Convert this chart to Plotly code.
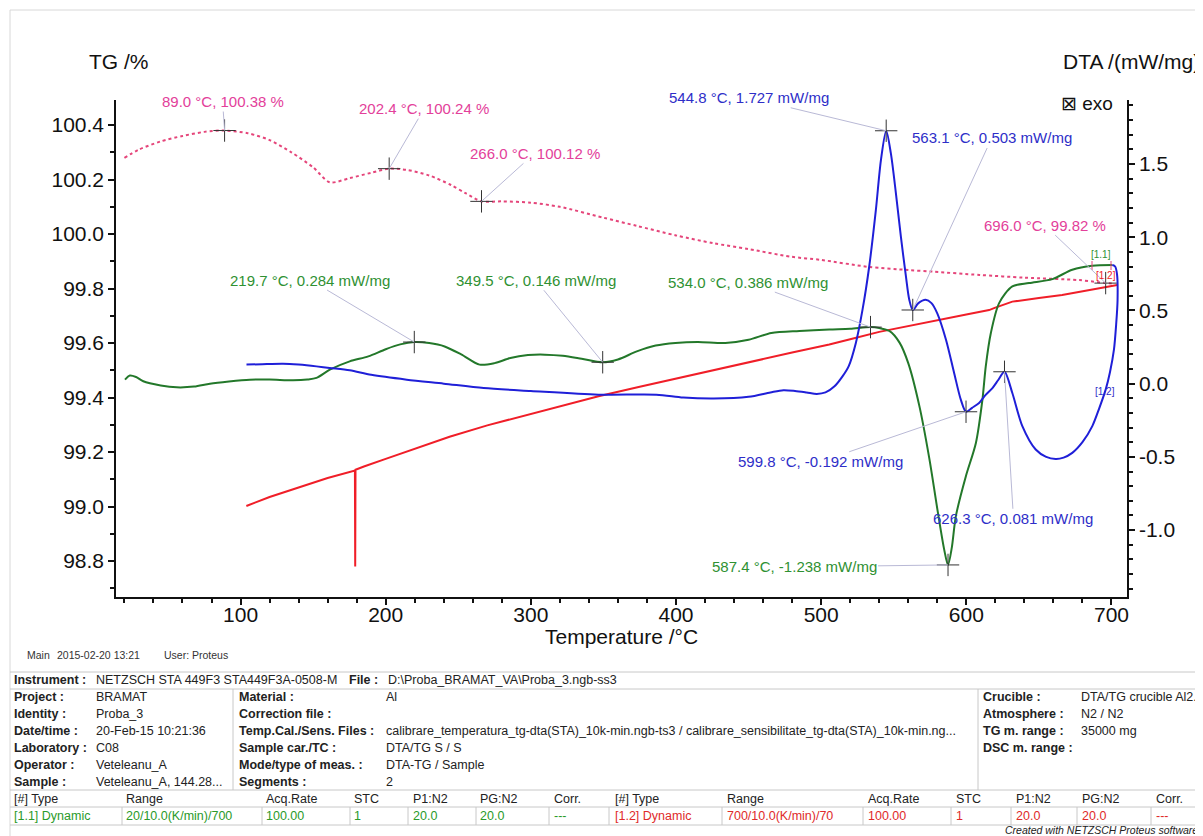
import plotly.graph_objects as go

# ---------------- data ----------------
# TG, heating segment [1.1] (dotted)
tg1_T = [20, 30, 45, 60, 75, 89.0, 105, 120, 135, 150, 161.5, 175, 190, 202.4, 215, 230, 245, 255,
         266.0, 280, 300, 320, 350, 373, 400, 426, 450, 479, 500, 532, 560, 577, 609, 640, 678, 696.0, 702]
tg1_v = [100.28, 100.31, 100.34, 100.36, 100.375, 100.38, 100.37, 100.345, 100.30, 100.245, 100.19,
         100.205, 100.225, 100.24, 100.235, 100.215, 100.18, 100.15, 100.12, 100.12, 100.115, 100.10,
         100.06, 100.03, 99.995, 99.966, 99.945, 99.917, 99.905, 99.88, 99.868, 99.862, 99.85, 99.84,
         99.831, 99.82, 99.818]

# TG, cooling segment [1.2] (solid red), in time order
tg2_T = [704, 690, 666, 650, 631.7, 620, 615.7, 600, 581, 560, 540, 520, 505.6, 480, 450, 426, 400,
         375, 346.6, 320, 300, 270, 244, 220, 200, 185, 179.2, 179.0, 178.8, 160, 140, 120, 104]
tg2_v = [99.813, 99.800, 99.776, 99.765, 99.752, 99.730, 99.721, 99.705, 99.684, 99.662, 99.641,
         99.614, 99.595, 99.565, 99.530, 99.501, 99.470, 99.440, 99.405, 99.368, 99.340, 99.298,
         99.256, 99.213, 99.175, 99.147, 99.135, 98.78, 99.132, 99.105, 99.07, 99.035, 99.002]

# DTA, heating segment [1.1] (green)
dta1_T = [20.4, 23.8, 28, 33, 45, 56, 68, 78.9, 92, 106.4, 120, 136.2, 146, 152.3, 161.5, 175.2, 188,
          200, 210, 219.7, 230, 240.6, 252, 264.7, 275, 285.9, 298, 309.7, 322, 335, 349.5, 360, 373,
          386, 399.6, 415, 434, 450, 465.7, 485, 505.6, 520, 534.0, 540, 547, 554, 560, 567.6, 574.5,
          580.1, 584.7, 587.4, 590, 592.8, 599.7, 606.6, 611.1, 613.4, 616.9, 622.6, 631.7, 643.2,
          659.3, 673, 686.8, 700.6]
dta1_v = [0.027, 0.055, 0.045, 0.016, -0.012, -0.025, -0.02, 0.0, 0.015, 0.027, 0.028, 0.023, 0.028,
          0.039, 0.095, 0.152, 0.186, 0.235, 0.268, 0.284, 0.277, 0.254, 0.20, 0.13, 0.14, 0.175,
          0.195, 0.198, 0.19, 0.17, 0.146, 0.165, 0.22, 0.26, 0.278, 0.285, 0.278, 0.30, 0.346, 0.36,
          0.37, 0.375, 0.386, 0.38, 0.36, 0.28, 0.14, -0.15, -0.51, -0.86, -1.13, -1.238, -1.12,
          -0.905, -0.632, -0.405, -0.109, 0.118, 0.346, 0.55, 0.664, 0.687, 0.714, 0.778, 0.805, 0.81]

# DTA, cooling segment [1.2] (blue), in time order
dta2_T = [700.6, 702.5, 703.8, 704.2, 703.2, 701.7, 699, 696, 691.5, 686.8, 680, 673, 667, 661.6,
          655, 647.8, 638.6, 631.7, 626.3, 622, 618, 613, 608.8, 604, 599.8, 596.2, 591.6, 586, 580,
          576, 572, 567, 563.1, 560.7, 558.4, 554.9, 551.5, 548, 544.8, 541.2, 537.7, 533.1, 528.5,
          523.9, 519, 514.7, 509, 503, 497, 490, 482, 474, 465, 450, 426, 405, 386.5, 346.6, 300,
          267.5, 240, 214.5, 190, 175.2, 161.4, 152.3, 140, 129.3, 115, 104.1]
dta2_v = [0.81, 0.80, 0.75, 0.57, 0.40, 0.232, 0.08, -0.041, -0.17, -0.29, -0.40, -0.473, -0.505,
          -0.514, -0.50, -0.45, -0.29, -0.064, 0.081, 0.025, -0.03, -0.08, -0.132, -0.165, -0.192,
          -0.109, 0.073, 0.30, 0.48, 0.55, 0.573, 0.55, 0.503, 0.573, 0.732, 1.005, 1.30, 1.574,
          1.727, 1.528, 1.187, 0.80, 0.505, 0.278, 0.12, 0.05, -0.02, -0.06, -0.07, -0.06, -0.05,
          -0.045, -0.06, -0.09, -0.102, -0.095, -0.075, -0.075, -0.05, -0.03, 0.0, 0.027, 0.06,
          0.091, 0.107, 0.118, 0.13, 0.136, 0.133, 0.13]

# evaluated peaks
tg_pk_T = [89.0, 202.4, 266.0, 696.0]
tg_pk_v = [100.38, 100.24, 100.12, 99.82]
d1_pk_T = [219.7, 349.5, 534.0, 587.4]
d1_pk_v = [0.284, 0.146, 0.386, -1.238]
d2_pk_T = [544.8, 563.1, 599.8, 626.3]
d2_pk_v = [1.727, 0.503, -0.192, 0.081]

# axis ticks
dta_ticks = [-1.0, -0.5, 0.0, 0.5, 1.0, 1.5]
dta_tick_labels = ["-1.0", "-0.5", "0.0", "0.5", "1.0", "1.5"]

# info table text
info_left_labels = ["Project :", "Identity :", "Date/time :", "Laboratory :", "Operator :", "Sample :"]
info_left_values = ["BRAMAT", "Proba_3", "20-Feb-15 10:21:36", "C08", "Veteleanu_A", "Veteleanu_A, 144.28..."]
info_mid_labels = ["Material :", "Correction file :", "Temp.Cal./Sens. Files :", "Sample car./TC :",
                   "Mode/type of meas. :", "Segments :"]
info_mid_values = ["Al", "", "calibrare_temperatura_tg-dta(STA)_10k-min.ngb-ts3 / calibrare_sensibilitate_tg-dta(STA)_10k-min.ng...",
                   "DTA/TG S / S", "DTA-TG / Sample", "2"]
info_right_labels = ["Crucible :", "Atmosphere :", "TG m. range :", "DSC m. range :"]
info_right_values = ["DTA/TG crucible Al2...", "N2 / N2", "35000 mg", ""]
seg_header = ["[#] Type", "Range", "Acq.Rate", "STC", "P1:N2", "PG:N2", "Corr."]
seg1_row = ["[1.1] Dynamic", "20/10.0(K/min)/700", "100.00", "1", "20.0", "20.0", "---"]
seg2_row = ["[1.2] Dynamic", "700/10.0(K/min)/70", "100.00", "1", "20.0", "20.0", "---"]

# ---------------- style ----------------
FONT = "Liberation Sans, Arial, sans-serif"
GREEN, GREEN_TXT = "#23782a", "#2f9132"
BLUE, BLUE_TXT = "#1f1fd8", "#2e2ec8"
RED = "#f01e28"
PINK, PINK_TXT = "#e5457a", "#e3409a"
LEADER = "#b9b9d6"

# screen geometry (page body adds an 8 px offset)
OFF = 8
SW, SH = 1203, 836
L, R, T, B = 116, 1127, 100, 597


def px(x):
    return (x - L) / (R - L)


def py(y):
    return (B - y) / (B - T)


fig = go.Figure()

fig.add_trace(go.Scatter(x=tg1_T, y=tg1_v, mode="lines", yaxis="y",
                         line=dict(color=PINK, width=2, dash="dot", shape="spline", smoothing=0.8)))
fig.add_trace(go.Scatter(x=tg2_T, y=tg2_v, mode="lines", yaxis="y",
                         line=dict(color=RED, width=2)))
fig.add_trace(go.Scatter(x=dta1_T, y=dta1_v, mode="lines", yaxis="y2",
                         line=dict(color=GREEN, width=2, shape="spline", smoothing=0.8)))
fig.add_trace(go.Scatter(x=dta2_T, y=dta2_v, mode="lines", yaxis="y2",
                         line=dict(color=BLUE, width=2, shape="spline", smoothing=0.8)))

cross = dict(symbol="cross-thin", size=16, line=dict(color="#333333", width=1))
fig.add_trace(go.Scatter(x=tg_pk_T, y=tg_pk_v, mode="markers", yaxis="y", marker=cross))
fig.add_trace(go.Scatter(x=d1_pk_T + d2_pk_T, y=d1_pk_v + d2_pk_v, mode="markers", yaxis="y2", marker=cross))

ann = []
tg_off = [(-2, -29), (35, -60), (53, -48), (-61, -58)]
for t, v, (ax, ay) in zip(tg_pk_T, tg_pk_v, tg_off):
    ann.append(dict(x=t, y=v, xref="x", yref="y", text=f"{t:.1f} °C, {v:.2f} %",
                    ax=ax, ay=ay, showarrow=True, arrowhead=0, arrowwidth=1, arrowcolor=LEADER,
                    font=dict(family=FONT, size=15, color=PINK_TXT)))
d1_off = [(-104, -62), (-67, -82), (-123, -45), (-154, 2)]
for t, v, (ax, ay) in zip(d1_pk_T, d1_pk_v, d1_off):
    ann.append(dict(x=t, y=v, xref="x", yref="y2", text=f"{t:.1f} °C, {v:.3f} mW/mg",
                    ax=ax, ay=ay, showarrow=True, arrowhead=0, arrowwidth=1, arrowcolor=LEADER,
                    font=dict(family=FONT, size=15, color=GREEN_TXT)))
d2_off = [(-137, -33), (79, -172), (-146, 50), (9, 147)]
for t, v, (ax, ay) in zip(d2_pk_T, d2_pk_v, d2_off):
    ann.append(dict(x=t, y=v, xref="x", yref="y2", text=f"{t:.1f} °C, {v:.3f} mW/mg",
                    ax=ax, ay=ay, showarrow=True, arrowhead=0, arrowwidth=1, arrowcolor=LEADER,
                    font=dict(family=FONT, size=15, color=BLUE_TXT)))


def txt(x, y, s, size=12.5, color="#222222", bold=False, xanchor="left", italic=False):
    if bold:
        s = f"<b>{s}</b>"
    if italic:
        s = f"<i>{s}</i>"
    ann.append(dict(x=px(x), y=py(y), xref="paper", yref="paper", text=s, showarrow=False,
                    xanchor=xanchor, yanchor="middle", borderpad=0,
                    font=dict(family=FONT, size=size, color=color)))


txt(88, 62, "TG /%", size=21, color="#111111")
txt(1201, 62, "DTA /(mW/mg)", size=21, color="#111111", xanchor="right")
txt(1114, 103, "⊠ exo", size=19, color="#111111", xanchor="right")
txt(621, 636, "Temperature /°C", size=21, color="#111111", xanchor="center")
txt(1101, 254, "[1.1]", size=10, color=GREEN_TXT, xanchor="center")
txt(1106, 275, "[1.2]", size=10, color=RED, xanchor="center")
txt(1105, 391, "[1.2]", size=10, color=BLUE_TXT, xanchor="center")

txt(26, 655, "Main", size=10.5, color="#333333")
txt(56, 655, "2015-02-20 13:21", size=10.5, color="#333333")
txt(163, 655, "User: Proteus", size=10.5, color="#333333")

txt(13, 680, "Instrument :", bold=True)
txt(95, 680, "NETZSCH STA 449F3 STA449F3A-0508-M")
txt(348, 680, "File :", bold=True)
txt(387, 680, "D:\\Proba_BRAMAT_VA\\Proba_3.ngb-ss3")
row_y = [697, 714, 731, 748, 765, 782]
for yy, a, b in zip(row_y, info_left_labels, info_left_values):
    txt(13, yy, a, bold=True)
    txt(95, yy, b)
for yy, a, b in zip(row_y, info_mid_labels, info_mid_values):
    txt(238, yy, a, bold=True)
    if b:
        txt(385, yy, b)
for yy, a, b in zip(row_y, info_right_labels, info_right_values):
    txt(982, yy, a, bold=True)
    if b:
        txt(1080, yy, b)
col1 = [13, 125, 265, 353, 412, 479, 553]
col2 = [614, 726, 867, 955, 1015, 1081, 1155]
for xx, h in zip(col1, seg_header):
    txt(xx, 799, h)
for xx, h in zip(col2, seg_header):
    txt(xx, 799, h)
for xx, s in zip(col1, seg1_row):
    txt(xx, 816, s, color="#2a9a2a")
for xx, s in zip(col2, seg2_row):
    txt(xx, 816, s, color="#e02a2a")
txt(1199, 830, "Created with NETZSCH Proteus software", size=10.5, color="#222222", italic=True,
    xanchor="right")

shapes = []


def hline(y, x0, x1, color="#c8c8c8", w=1):
    shapes.append(dict(type="line", xref="paper", yref="paper", x0=px(x0), x1=px(x1), y0=py(y), y1=py(y),
                       line=dict(color=color, width=w)))


def vline(x, y0, y1, color="#c8c8c8", w=1):
    shapes.append(dict(type="line", xref="paper", yref="paper", x0=px(x), x1=px(x), y0=py(y0), y1=py(y1),
                       line=dict(color=color, width=w)))


hline(10, 10, 1210, color="#d8d8d8")
vline(10, 10, 840, color="#d8d8d8")
for yy in [672, 689, 790, 807, 825]:
    hline(yy, 10, 1210)
vline(233, 689, 790)
vline(978, 689, 790)
for xx in [122, 262, 350, 408, 476, 549, 609, 722, 863, 951, 1011, 1077, 1151]:
    vline(xx, 807, 825)
vline(1092, 261, 270, color=PINK, w=1)
vline(1111, 261, 270, color=PINK, w=1)

axis_common = dict(showline=True, linecolor="#111111", linewidth=1.5, ticks="outside", ticklen=6,
                   tickwidth=1.5, tickcolor="#111111", showgrid=False, zeroline=False,
                   tickfont=dict(family=FONT, size=21, color="#111111"))

fig.update_layout(
    width=SW - OFF, height=SH - OFF, autosize=False,
    margin=dict(l=L - OFF, r=SW - R, t=T - OFF, b=SH - B),
    paper_bgcolor="white", plot_bgcolor="white", showlegend=False,
    xaxis=dict(range=[14.2, 710.7], tickmode="linear", tick0=0, dtick=100, ticklabelstandoff=-8,
               minor=dict(tickmode="linear", tick0=0, dtick=20, ticklen=4, tickcolor="#111111", showgrid=False),
               **axis_common),
    yaxis=dict(range=[98.668, 100.492], tickmode="linear", tick0=0, dtick=0.2, tickformat=".1f",
               minor=dict(tickmode="linear", tick0=0, dtick=0.1, ticklen=4, tickcolor="#111111", showgrid=False),
               **axis_common),
    yaxis2=dict(range=[-1.457, 1.937], overlaying="y", side="right", tickmode="array",
                tickvals=dta_ticks, ticktext=dta_tick_labels, anchor="x",
                minor=dict(tickmode="linear", tick0=0, dtick=0.1, ticklen=4, tickcolor="#111111", showgrid=False),
                **axis_common),
    annotations=ann,
    shapes=shapes,
)

fig.write_html("out.html")
